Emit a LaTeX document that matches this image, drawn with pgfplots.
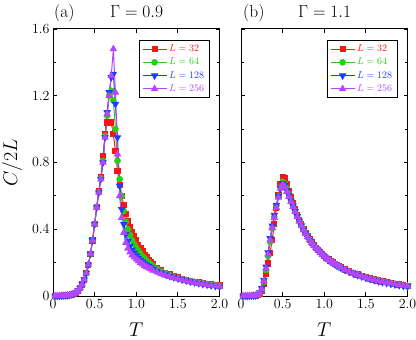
\RequirePackage{fix-cm}
\documentclass[border=0pt]{standalone}
\usepackage{pgfplots}
\usepackage{pgfplotstable}
\pgfplotsset{compat=1.18}
\definecolor{cR}{RGB}{250,20,20}
\definecolor{cG}{RGB}{40,205,20}
\definecolor{cB}{RGB}{30,60,255}
\definecolor{cP}{RGB}{180,70,255}

% C/2L for Gamma = 0.9
\pgfplotstableread{
T     a32   a64   a128  a256
0.025 0.000 0.000 0.000 0.000
0.050 0.000 0.000 0.000 0.000
0.075 0.000 0.000 0.000 0.000
0.100 0.001 0.001 0.001 0.001
0.125 0.002 0.002 0.002 0.002
0.150 0.003 0.003 0.003 0.003
0.175 0.004 0.004 0.004 0.004
0.200 0.006 0.006 0.006 0.006
0.225 0.009 0.009 0.009 0.009
0.250 0.013 0.013 0.013 0.014
0.275 0.020 0.020 0.021 0.021
0.300 0.031 0.031 0.032 0.032
0.325 0.047 0.047 0.048 0.048
0.350 0.069 0.069 0.070 0.070
0.375 0.098 0.098 0.099 0.099
0.400 0.137 0.137 0.138 0.138
0.425 0.188 0.188 0.189 0.189
0.450 0.252 0.252 0.253 0.253
0.475 0.332 0.332 0.333 0.333
0.500 0.430 0.430 0.430 0.430
0.525 0.535 0.532 0.530 0.530
0.550 0.630 0.622 0.620 0.620
0.575 0.715 0.705 0.700 0.700
0.600 0.840 0.810 0.800 0.800
0.625 0.970 0.960 0.950 0.950
0.650 1.040 1.080 1.100 1.090
0.675 1.045 1.200 1.220 1.200
0.700 1.040 1.230 1.310 1.320
0.725 0.970 1.170 1.330 1.480
0.750 0.870 1.000 1.150 1.220
0.775 0.750 0.810 0.950 0.850
0.800 0.665 0.700 0.660 0.600
0.825 0.600 0.600 0.520 0.470
0.850 0.545 0.510 0.430 0.380
0.875 0.490 0.445 0.370 0.320
0.900 0.450 0.400 0.330 0.285
0.925 0.415 0.365 0.300 0.262
0.950 0.385 0.335 0.277 0.245
0.975 0.357 0.310 0.258 0.232
1.000 0.332 0.288 0.242 0.220
1.025 0.308 0.270 0.228 0.210
1.050 0.287 0.253 0.216 0.200
1.075 0.267 0.238 0.205 0.191
1.100 0.248 0.225 0.195 0.182
1.125 0.232 0.212 0.186 0.174
1.150 0.217 0.201 0.178 0.167
1.175 0.203 0.190 0.170 0.160
1.200 0.190 0.180 0.163 0.154
1.250 0.170 0.163 0.150 0.143
1.300 0.154 0.148 0.139 0.133
1.350 0.140 0.136 0.129 0.124
1.400 0.129 0.125 0.120 0.116
1.450 0.119 0.116 0.112 0.109
1.500 0.111 0.108 0.105 0.102
1.550 0.103 0.101 0.098 0.096
1.600 0.097 0.095 0.092 0.090
1.650 0.091 0.089 0.086 0.085
1.700 0.086 0.084 0.081 0.080
1.750 0.081 0.079 0.076 0.075
1.800 0.077 0.075 0.071 0.071
1.850 0.073 0.071 0.067 0.067
1.900 0.069 0.067 0.063 0.063
1.950 0.066 0.064 0.059 0.060
2.000 0.063 0.061 0.055 0.057
}\dataA

% C/2L for Gamma = 1.1
\pgfplotstableread{
T     a32   a64   a128  a256
0.025 0.000 0.000 0.000 0.000
0.050 0.000 0.000 0.000 0.000
0.075 0.000 0.000 0.000 0.000
0.100 0.001 0.001 0.001 0.001
0.125 0.001 0.001 0.001 0.001
0.150 0.002 0.002 0.002 0.002
0.175 0.003 0.003 0.003 0.003
0.200 0.005 0.006 0.007 0.006
0.225 0.013 0.016 0.020 0.018
0.250 0.032 0.040 0.046 0.042
0.275 0.070 0.085 0.095 0.090
0.300 0.130 0.155 0.175 0.165
0.325 0.195 0.240 0.260 0.250
0.350 0.260 0.325 0.345 0.335
0.375 0.335 0.405 0.420 0.410
0.400 0.430 0.475 0.485 0.470
0.425 0.525 0.540 0.545 0.530
0.450 0.605 0.600 0.600 0.590
0.475 0.670 0.650 0.645 0.645
0.500 0.712 0.685 0.675 0.668
0.525 0.705 0.675 0.665 0.655
0.550 0.670 0.645 0.635 0.625
0.575 0.630 0.610 0.605 0.595
0.600 0.590 0.575 0.572 0.565
0.625 0.555 0.542 0.540 0.535
0.650 0.520 0.510 0.508 0.505
0.675 0.487 0.480 0.478 0.475
0.700 0.456 0.451 0.450 0.447
0.725 0.428 0.424 0.422 0.420
0.750 0.402 0.399 0.397 0.395
0.775 0.379 0.376 0.374 0.373
0.800 0.358 0.355 0.353 0.353
0.825 0.339 0.336 0.334 0.335
0.850 0.321 0.319 0.317 0.318
0.875 0.305 0.303 0.301 0.302
0.900 0.290 0.288 0.286 0.288
0.925 0.276 0.274 0.272 0.274
0.950 0.263 0.261 0.259 0.261
0.975 0.251 0.249 0.247 0.249
1.000 0.240 0.238 0.236 0.238
1.025 0.230 0.228 0.226 0.228
1.050 0.220 0.218 0.216 0.218
1.075 0.211 0.209 0.207 0.209
1.100 0.202 0.200 0.198 0.200
1.125 0.194 0.192 0.190 0.192
1.150 0.186 0.184 0.182 0.184
1.175 0.179 0.177 0.175 0.177
1.200 0.172 0.170 0.168 0.170
1.250 0.159 0.157 0.155 0.157
1.300 0.148 0.146 0.144 0.146
1.350 0.138 0.136 0.134 0.136
1.400 0.129 0.127 0.125 0.127
1.450 0.120 0.118 0.116 0.118
1.500 0.112 0.110 0.108 0.110
1.550 0.105 0.103 0.101 0.103
1.600 0.099 0.097 0.094 0.097
1.650 0.093 0.091 0.088 0.091
1.700 0.087 0.085 0.082 0.085
1.750 0.082 0.080 0.077 0.080
1.800 0.077 0.075 0.072 0.075
1.850 0.073 0.071 0.068 0.071
1.900 0.069 0.067 0.064 0.067
1.950 0.065 0.063 0.060 0.063
2.000 0.061 0.059 0.056 0.059
}\dataB

\pgfplotsset{
  panel/.style={
    scale only axis, width=166.5bp, height=267bp,
    xmin=0, xmax=2, ymin=0, ymax=1.6,
    xtick={0,0.5,1,1.5,2}, xticklabels={0,0.5,1.0,1.5,2.0},
    ytick={0,0.4,0.8,1.2,1.6},
    minor ytick={0.2,0.6,1.0,1.4},
    tick align=inside, major tick length=4bp, minor tick length=3bp,
    axis line style={line width=1bp},
    every tick/.style={black, line width=0.8bp},
    tick label style={font=\fontsize{14}{15}\selectfont},
    xlabel={$T$},
    xlabel style={font=\fontsize{20}{20}\selectfont, inner sep=0pt,
      at={(axis description cs:0.5,0)}, anchor=center, yshift=-34bp},
    legend style={at={(1,1)}, anchor=north east, xshift=-10bp, yshift=-11bp,
      draw=black, line width=0.8bp, font=\fontsize{10}{10}\selectfont,
      inner xsep=3bp, inner ysep=2.5bp, row sep=1bp},
    legend cell align=left,
    legend image code/.code={\draw[mark repeat=2, mark phase=2, #1] plot coordinates {(0bp,0bp) (12bp,0bp) (24bp,0bp)};},
  },
  sR/.style={cR, line width=1bp, mark=square*, mark size=2.6bp, mark options={solid}},
  sG/.style={cG, line width=1bp, mark=*, mark size=2.8bp, mark options={solid}},
  sB/.style={cB, line width=1bp, mark=triangle*, mark size=3.4bp, mark options={solid, rotate=180}},
  sP/.style={cP, line width=1bp, mark=triangle*, mark size=3.4bp, mark options={solid}},
}

\begin{document}
\begin{tikzpicture}
\useasboundingbox (0,0) rectangle (416bp,340bp);

\begin{axis}[panel, at={(53bp,44bp)}, anchor=south west,
    yticklabels={0,0.4,0.8,1.2,1.6},
    ylabel={$C/2L$},
    ylabel style={font=\fontsize{20}{20}\selectfont, at={(axis description cs:-0.246,0.5)}, anchor=center}]
\addplot[sR] table[x=T, y=a32] {\dataA};
\addplot[sG] table[x=T, y=a64] {\dataA};
\addplot[sB] table[x=T, y=a128] {\dataA};
\addplot[sP] table[x=T, y=a256] {\dataA};
\legend{\textcolor{cR}{$L=32$}, \textcolor{cG}{$L=64$}, \textcolor{cB}{$L=128$}, \textcolor{cP}{$L=256$}}
\end{axis}

\begin{axis}[panel, at={(241bp,44bp)}, anchor=south west, yticklabels={}]
\addplot[sR] table[x=T, y=a32] {\dataB};
\addplot[sG] table[x=T, y=a64] {\dataB};
\addplot[sB] table[x=T, y=a128] {\dataB};
\addplot[sP] table[x=T, y=a256] {\dataB};
\legend{\textcolor{cR}{$L=32$}, \textcolor{cG}{$L=64$}, \textcolor{cB}{$L=128$}, \textcolor{cP}{$L=256$}}
\end{axis}

\node[anchor=base west, inner sep=0, font=\fontsize{17.5}{18}\selectfont] at (54bp,322.5bp) {(a)};
\node[anchor=base west, inner sep=0, font=\fontsize{17.5}{18}\selectfont] at (110bp,322.5bp) {$\Gamma = 0.9$};
\node[anchor=base west, inner sep=0, font=\fontsize{17.5}{18}\selectfont] at (243bp,322.5bp) {(b)};
\node[anchor=base west, inner sep=0, font=\fontsize{17.5}{18}\selectfont] at (298bp,322.5bp) {$\Gamma = 1.1$};
\end{tikzpicture}
\end{document}
